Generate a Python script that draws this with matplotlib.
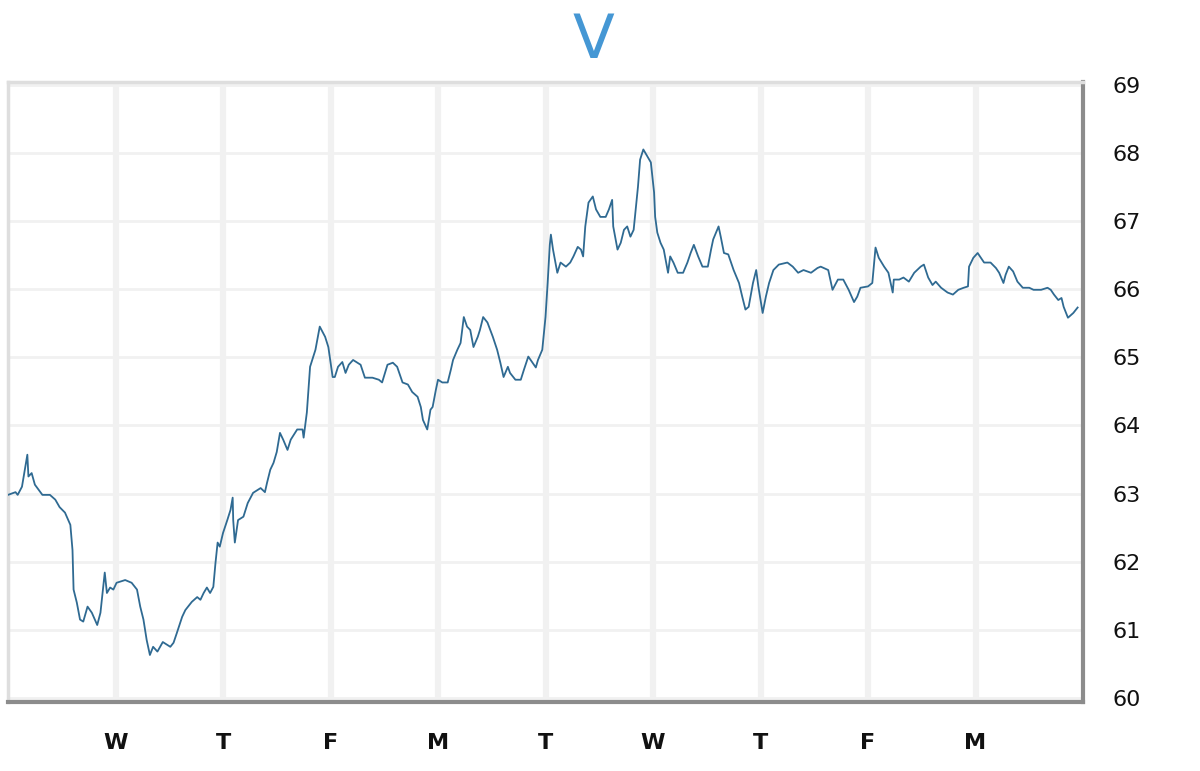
import matplotlib
matplotlib.use("Agg")
import matplotlib.pyplot as plt

# ---- data -------------------------------------------------------------
title = "V"
day_labels = ["W", "T", "F", "M", "T", "W", "T", "F", "M"]
day_ticks = [1, 2, 3, 4, 5, 6, 7, 8, 9]
y_ticks = [60, 61, 62, 63, 64, 65, 66, 67, 68, 69]

# time in trading days (fractional)
t = [0.00, 0.07, 0.09, 0.13, 0.18, 0.19, 0.22, 0.25, 0.32, 0.39, 0.44, 0.48, 0.53, 0.58, 0.60,
     0.61, 0.64, 0.67, 0.70, 0.74, 0.78, 0.83, 0.86, 0.88, 0.90, 0.92, 0.95, 0.98, 1.01, 1.09,
     1.15, 1.20, 1.23, 1.26, 1.29, 1.32, 1.35, 1.39, 1.44, 1.51, 1.54, 1.57, 1.62, 1.65, 1.71,
     1.76, 1.79, 1.82, 1.85, 1.88, 1.91, 1.93, 1.95, 1.97, 2.00, 2.04, 2.07, 2.09, 2.095, 2.11,
     2.14, 2.19, 2.23, 2.28, 2.35, 2.39, 2.41, 2.44, 2.47, 2.50, 2.53, 2.56, 2.60, 2.63, 2.69,
     2.74, 2.75, 2.78, 2.79, 2.81, 2.86, 2.90, 2.95, 2.98, 3.02, 3.04, 3.07, 3.11, 3.14, 3.17,
     3.21, 3.28, 3.32, 3.39, 3.45, 3.48, 3.53, 3.58, 3.62, 3.67, 3.72, 3.76, 3.81, 3.84, 3.86,
     3.90, 3.93, 3.95, 3.98, 4.00, 4.04, 4.09, 4.12, 4.14, 4.18, 4.21, 4.24, 4.27, 4.30, 4.33,
     4.37, 4.39, 4.42, 4.46, 4.51, 4.55, 4.58, 4.61, 4.65, 4.67, 4.72, 4.77, 4.80, 4.84, 4.88,
     4.91, 4.93, 4.97, 5.00, 5.02, 5.04, 5.05, 5.07, 5.11, 5.14, 5.19, 5.23, 5.26, 5.30, 5.33,
     5.35, 5.37, 5.40, 5.44, 5.47, 5.51, 5.56, 5.59, 5.62, 5.63, 5.67, 5.70, 5.73, 5.76, 5.79,
     5.82, 5.86, 5.88, 5.91, 5.95, 5.98, 6.01, 6.02, 6.04, 6.07, 6.10, 6.14, 6.16, 6.19, 6.23,
     6.28, 6.32, 6.35, 6.38, 6.42, 6.46, 6.51, 6.54, 6.56, 6.61, 6.63, 6.66, 6.70, 6.75, 6.80,
     6.83, 6.86, 6.89, 6.93, 6.96, 6.98, 7.02, 7.05, 7.08, 7.12, 7.17, 7.25, 7.30, 7.35, 7.40,
     7.47, 7.53, 7.56, 7.63, 7.67, 7.72, 7.77, 7.82, 7.87, 7.90, 7.93, 8.00, 8.04, 8.07, 8.10,
     8.15, 8.19, 8.23, 8.24, 8.29, 8.33, 8.38, 8.43, 8.49, 8.52, 8.56, 8.60, 8.63, 8.68, 8.74,
     8.79, 8.84, 8.89, 8.93, 8.94, 8.98, 9.02, 9.05, 9.08, 9.14, 9.19, 9.22, 9.26, 9.28, 9.31,
     9.35, 9.39, 9.44, 9.50, 9.54, 9.61, 9.67, 9.70, 9.73, 9.77, 9.80, 9.82, 9.86, 9.91, 9.95]

price = [62.98, 63.02, 62.98, 63.10, 63.57, 63.25, 63.30, 63.13, 62.98, 62.98, 62.91, 62.80, 62.72, 62.54, 62.17,
         61.59, 61.40, 61.15, 61.12, 61.34, 61.25, 61.07, 61.25, 61.54, 61.84, 61.54, 61.62, 61.59, 61.69, 61.73,
         61.69, 61.59, 61.34, 61.15, 60.85, 60.63, 60.75, 60.68, 60.82, 60.75, 60.81, 60.95, 61.19, 61.29, 61.41,
         61.48, 61.44, 61.54, 61.62, 61.54, 61.63, 61.98, 62.28, 62.22, 62.42, 62.61, 62.76, 62.94, 62.61, 62.28,
         62.61, 62.66, 62.86, 63.01, 63.08, 63.02, 63.16, 63.35, 63.45, 63.61, 63.89, 63.79, 63.64, 63.79, 63.94,
         63.94, 63.82, 64.19, 64.42, 64.86, 65.11, 65.45, 65.30, 65.15, 64.71, 64.71, 64.86, 64.93, 64.77, 64.89,
         64.96, 64.89, 64.70, 64.70, 64.67, 64.63, 64.89, 64.92, 64.86, 64.63, 64.60, 64.49, 64.42, 64.27, 64.08,
         63.94, 64.23, 64.27, 64.52, 64.67, 64.63, 64.63, 64.82, 64.96, 65.11, 65.21, 65.59, 65.45, 65.40, 65.15,
         65.30, 65.40, 65.59, 65.51, 65.30, 65.11, 64.92, 64.71, 64.86, 64.77, 64.67, 64.67, 64.82, 65.01, 64.92,
         64.85, 64.96, 65.11, 65.59, 66.09, 66.65, 66.80, 66.58, 66.24, 66.39, 66.33, 66.39, 66.48, 66.62, 66.58,
         66.48, 66.92, 67.27, 67.36, 67.17, 67.06, 67.06, 67.17, 67.31, 66.92, 66.58, 66.68, 66.87, 66.92, 66.77,
         66.87, 67.50, 67.90, 68.05, 67.94, 67.86, 67.42, 67.06, 66.83, 66.68, 66.58, 66.24, 66.48, 66.39, 66.24,
         66.24, 66.39, 66.53, 66.65, 66.48, 66.33, 66.33, 66.58, 66.73, 66.92, 66.77, 66.53, 66.51, 66.28, 66.09,
         65.89, 65.70, 65.74, 66.09, 66.28, 66.04, 65.65, 65.89, 66.09, 66.28, 66.36, 66.39, 66.33, 66.24, 66.28,
         66.24, 66.31, 66.33, 66.28, 65.99, 66.14, 66.14, 65.99, 65.81, 65.89, 66.02, 66.04, 66.09, 66.61, 66.46,
         66.33, 66.24, 65.95, 66.14, 66.14, 66.17, 66.11, 66.24, 66.33, 66.36, 66.17, 66.06, 66.11, 66.02, 65.95,
         65.92, 65.99, 66.02, 66.04, 66.33, 66.46, 66.53, 66.46, 66.39, 66.39, 66.31, 66.24, 66.09, 66.21, 66.33,
         66.26, 66.11, 66.02, 66.02, 65.99, 65.99, 66.02, 65.99, 65.92, 65.84, 65.87, 65.74, 65.58, 65.65, 65.73]

# ---- figure -----------------------------------------------------------
fig = plt.figure(figsize=(12, 7.71), dpi=100)
ax = fig.add_axes([8 / 1200, (771 - 702) / 771, (1083 - 8) / 1200, (702 - 82) / 771])

ax.plot(t, price, color="#2f6a92", lw=1.3, zorder=3)

ax.set_xlim(0, 10)
ax.set_ylim(59.94, 69.04)

ax.set_xticks(day_ticks)
ax.set_xticklabels(day_labels, fontsize=16, fontweight="bold", color="#111111")
ax.set_yticks(y_ticks)
ax.set_yticklabels([str(v) for v in y_ticks], fontsize=16, color="#111111")
ax.yaxis.tick_right()
ax.tick_params(axis="both", length=0)
ax.tick_params(axis="x", pad=22)
ax.tick_params(axis="y", pad=21)

ax.grid(axis="x", color="#f1f1f1", lw=4.5, zorder=0)
ax.grid(axis="y", color="#f1f1f1", lw=2.0, zorder=0)
ax.set_axisbelow(True)

for side in ("left", "top"):
    ax.spines[side].set_color("#dedede")
    ax.spines[side].set_linewidth(2.5)
for side in ("right", "bottom"):
    ax.spines[side].set_color("#8c8c8c")
    ax.spines[side].set_linewidth(3)

fig.text(593 / 1200, 1 - 41 / 771, title, ha="center", va="center",
         fontsize=44, color="#4597d4")

fig.savefig("out.png", dpi=100, facecolor="white")
